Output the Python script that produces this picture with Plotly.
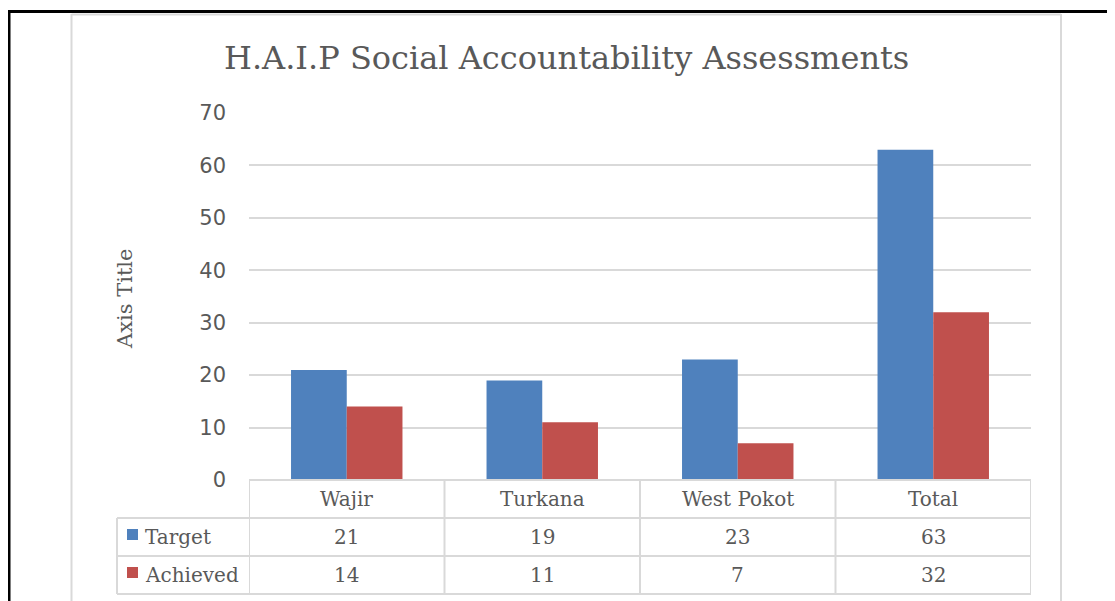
import plotly.graph_objects as go

# chart data
categories = ["Wajir", "Turkana", "West Pokot", "Total"]
target = [21, 19, 23, 63]
achieved = [14, 11, 7, 32]
series_names = ["Target", "Achieved"]
series_colors = ["#4F81BD", "#C0504D"]

# the page body adds an 8px margin, so the figure is drawn 8px smaller
OFF = 8
W, H = 1115 - OFF, 601 - OFF
# plot area in page pixels
L, R, T, B = 249, 1031, 113, 480
PW, PH = R - L, B - T

TEXT = "#595959"
GRID = "#D9D9D9"
SERIF = "DejaVu Serif"
SANS = "DejaVu Sans"


def px(x):
    return (x - L) / PW


def py(y):
    return (B - y) / PH


def label(x, y, text, xref="paper", size=20, **kw):
    return dict(x=x, y=y, xref=xref, yref="paper", text=text, showarrow=False,
                xanchor=kw.pop("xanchor", "center"), yanchor="middle",
                font=dict(family=SERIF, size=size, color=TEXT), **kw)


fig = go.Figure()
for name, vals, color in zip(series_names, [target, achieved], series_colors):
    fig.add_trace(
        go.Bar(
            x=categories,
            y=vals,
            name=name,
            marker=dict(color=color, line=dict(width=0)),
            showlegend=False,
        )
    )

shapes = []
annotations = []


def hline(y, x0, x1, color=GRID, width=2):
    shapes.append(dict(type="line", xref="paper", yref="paper",
                       x0=px(x0), x1=px(x1), y0=py(y), y1=py(y),
                       line=dict(color=color, width=width)))


def vline(x, y0, y1, color=GRID, width=2):
    shapes.append(dict(type="line", xref="paper", yref="paper",
                       x0=px(x), x1=px(x), y0=py(y0), y1=py(y1),
                       line=dict(color=color, width=width)))


# data table below the axis
for yy in [518, 556, 594]:
    hline(yy, 117, R)
hline(B, L, R)
for i in range(len(categories) + 1):
    shapes.append(dict(type="line", xref="x", yref="paper",
                       x0=i - 0.5, x1=i - 0.5, y0=0, y1=py(594),
                       line=dict(color=GRID, width=2)))
vline(117, 518, 594)

row_centers = [537, 575]
for i, cat in enumerate(categories):
    annotations.append(label(cat, py(499), cat, xref="x"))
    for vals, yc in zip([target, achieved], row_centers):
        annotations.append(label(cat, py(yc), str(vals[i]), xref="x"))

for name, color, yc in zip(series_names, series_colors, row_centers):
    shapes.append(dict(type="rect", xref="paper", yref="paper",
                       x0=px(127), x1=px(138), y0=py(yc - 8), y1=py(yc + 3),
                       fillcolor=color, line=dict(width=0)))
    annotations.append(label(px(143), py(yc), name, xanchor="left"))

# chart border and page frame
vline(71.5, 14, 601)
vline(1061, 14, 601)
hline(14.5, 71.5, 1061)
hline(11.5, 8, 1115, color="black", width=3)
vline(9, 10, 601, color="black", width=3)

# title and axis title
annotations.append(label(px(566), py(58), "H.A.I.P Social Accountability Assessments", size=32))
annotations.append(label(px(125), py(299), "Axis Title", size=21, textangle=-90))

fig.update_layout(
    width=W,
    height=H,
    margin=dict(l=L - OFF, r=1115 - R, t=T - OFF, b=601 - B, pad=0),
    paper_bgcolor="white",
    plot_bgcolor="white",
    barmode="group",
    bargap=0.43,
    bargroupgap=0,
    shapes=shapes,
    annotations=annotations,
)
fig.update_xaxes(showticklabels=False, showgrid=False, showline=False,
                 zeroline=False, range=[-0.5, 3.5])
fig.update_yaxes(range=[0, 70], dtick=10, showgrid=True, gridcolor=GRID,
                 gridwidth=2, zeroline=False, showline=False, ticks="",
                 ticklabelstandoff=22,
                 tickfont=dict(family=SANS, size=21, color=TEXT))

fig.write_html("out.html")
